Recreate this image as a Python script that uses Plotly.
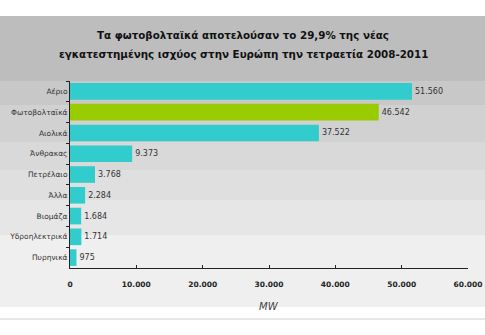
import plotly.graph_objects as go

categories = ["Αέριο", "Φωτοβολταϊκά", "Αιολικά", "Άνθρακας", "Πετρέλαιο",
              "Άλλα", "Βιομάζα", "Υδροηλεκτρικά", "Πυρηνικά"]
values = [51560, 46542, 37522, 9373, 3768, 2284, 1684, 1714, 975]
bar_colors = ["#33CCCC", "#99CC00", "#33CCCC", "#33CCCC", "#33CCCC",
              "#33CCCC", "#33CCCC", "#33CCCC", "#33CCCC"]
title_lines = ["Τα φωτοβολταϊκά αποτελούσαν το 29,9% της νέας",
               "εγκατεστημένης ισχύος στην Ευρώπη την τετραετία 2008-2011"]
x_ticks = [0, 10000, 20000, 30000, 40000, 50000, 60000]

W, H = 485, 335
L, R, T, B = 70, 17, 81, 67
pw, ph = W - L - R, H - T - B

def px(x):
    return (x - L) / pw

def py(y):
    return (H - B - y) / ph

fig = go.Figure(go.Bar(
    x=values, y=categories, orientation="h",
    marker=dict(color=bar_colors, line=dict(width=0)),
    texttemplate="%{x:,}", textposition="outside",
    textfont=dict(size=8, color="#333333", family="DejaVu Sans"),
    cliponaxis=False, width=0.8,
))

bands = [(16, 81, "#bdbdbd"), (81, 105, "#c8c8c8"), (105, 142, "#d1d1d1"),
         (142, 170, "#d9d9d9"), (170, 200, "#dfdfdf"), (200, 235, "#e6e6e6"),
         (235, 307, "#efefef")]
shapes = []
for y0, y1, c in bands:
    shapes.append(dict(type="rect", xref="paper", yref="paper",
                       x0=px(0), x1=px(W), y0=py(y1), y1=py(y0),
                       fillcolor=c, line=dict(width=0), layer="below"))
shapes.append(dict(type="line", xref="paper", yref="paper",
                   x0=px(0), x1=px(W), y0=py(319), y1=py(319),
                   line=dict(color="#d0d0d0", width=1), layer="below"))

annotations = []
for i, t in enumerate(title_lines):
    annotations.append(dict(text="<b>" + t + "</b>", xref="paper", yref="paper",
                            x=px(243), y=py(35 + 19 * i), xanchor="center",
                            yanchor="middle", showarrow=False,
                            font=dict(size=10.3, color="#111111", family="DejaVu Sans")))
annotations.append(dict(text="<i>MW</i>", xref="paper", yref="paper",
                        x=px(269), y=py(306), xanchor="center", yanchor="middle",
                        showarrow=False,
                        font=dict(size=10, color="#444444", family="DejaVu Sans")))

fig.update_layout(
    width=W, height=H, margin=dict(l=L, r=R, t=T, b=B),
    paper_bgcolor="white", plot_bgcolor="rgba(0,0,0,0)",
    separators=",.", showlegend=False, bargap=0.2,
    shapes=shapes, annotations=annotations,
    xaxis=dict(range=[0, 60000], tickvals=x_ticks, tickformat=",",
               automargin=False,
               showgrid=False, zeroline=False, showline=True,
               linecolor="#222222", linewidth=1, ticks="inside", ticklen=3,
               tickcolor="#222222", ticklabelstandoff=9,
               tickfont=dict(size=7.5, color="#222222", family="DejaVu Sans", weight="bold")),
    yaxis=dict(autorange="reversed", showgrid=False, zeroline=False,
               automargin=False,
               showline=True, linecolor="#222222", linewidth=1,
               ticks="outside", ticklen=3, tickcolor="#222222",
               tickson="boundaries",
               tickfont=dict(size=7.5, color="#333333", family="DejaVu Sans")),
)

fig.write_html("out.html")
